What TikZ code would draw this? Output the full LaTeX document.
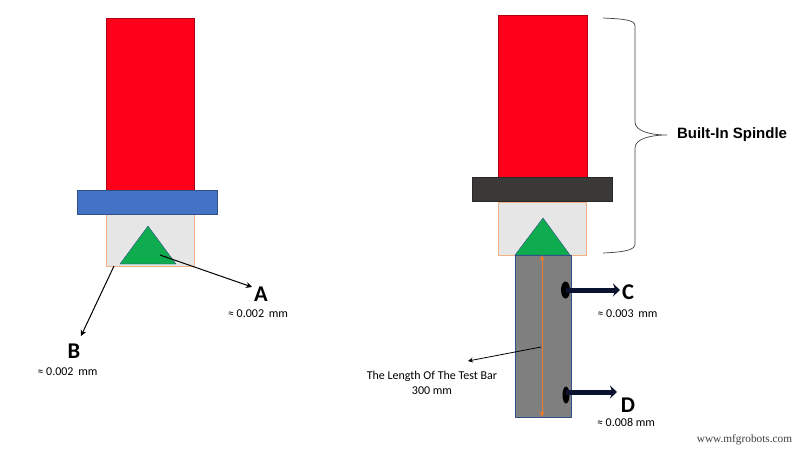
\documentclass[tikz,border=0pt]{standalone}
\usepackage{fontspec}
\setmainfont{Carlito}
\newfontfamily\bracefont{Liberation Sans}
\newfontfamily\webfont{Liberation Serif}
\usetikzlibrary{arrows.meta,shapes.geometric}
\definecolor{redbox}{HTML}{FE0019}
\definecolor{bluebox}{HTML}{4472C4}
\definecolor{darkbox}{HTML}{3B3838}
\definecolor{lightbox}{HTML}{E7E6E6}
\definecolor{orangeline}{HTML}{ED7D31}
\definecolor{greentri}{HTML}{0FAB4F}
\definecolor{barfill}{HTML}{7F7F7F}
\definecolor{navyline}{HTML}{0B1230}
\tikzset{
  part/.style={draw=#1!70!black, line width=0.7pt, inner sep=0pt, outer sep=0pt},
  holder/.style={draw=orangeline!60, fill=lightbox, line width=0.8pt, inner sep=0pt, outer sep=0pt, minimum width=88pt, minimum height=52pt},
  tri/.style={draw=bluebox!70!black, fill=greentri, line width=0.4pt},
  letter/.style={font=\bfseries\fontsize{22.5}{23}\selectfont, inner sep=0pt},
  value/.style={font=\fontsize{12}{15}\selectfont, inner sep=0pt, align=center},
  leader/.style={-{Stealth[length=6pt,width=6pt]}, line width=1pt, black},
  probe/.style={-{Stealth[length=7pt,width=13pt]}, line width=5pt, navyline},
  tipmark/.style={fill=black, draw=none, ellipse, inner sep=0pt, minimum width=9pt, minimum height=17pt}
}
\begin{document}
\begin{tikzpicture}[x=1pt,y=-1pt]
  \useasboundingbox (0,0) rectangle (800,448);
  % left spindle
  \node[part=redbox, fill=redbox, minimum width=88pt, minimum height=172pt] (redL) at (150,104) {};
  \node[holder] (holdL) at (150,240) {};
  \node[part=bluebox, fill=bluebox, minimum width=140pt, minimum height=24pt] (flangeL) at (147,202.5) {};
  \draw[tri] (148,226) -- (176,264) -- (120,264) -- cycle;
  \coordinate (triL) at (160,255);
  \coordinate (cornerL) at (114,266);
  \node[letter] (a) at (261,294) {A};
  \node[value] (aval) at (258,314) {≈ 0.002\, mm};
  \node[letter] (b) at (74,351) {B};
  \node[value] (bval) at (67.5,372) {≈ 0.002\, mm};
  \coordinate (aend) at (252,287);
  \coordinate (bend) at (81,336);
  \draw[leader] (triL) -- (aend);
  \draw[leader] (cornerL) -- (bend);
  % right spindle
  \node[part=redbox, fill=redbox, minimum width=89pt, minimum height=162pt] (redR) at (542.5,96) {};
  \node[holder, minimum height=53pt] (holdR) at (542.5,228.5) {};
  \node[part=darkbox, fill=darkbox, minimum width=140pt, minimum height=24pt] (flangeR) at (542,189) {};
  \draw[tri] (543,218) -- (570,255) -- (515,255) -- cycle;
  \node[part=bluebox, fill=barfill, minimum width=56pt, minimum height=162pt] (bar) at (543,336) {};
  \coordinate (lenT) at (542,255);
  \coordinate (lenB) at (542,417);
  \draw[{Stealth[length=6pt,width=5pt]}-{Stealth[length=6pt,width=5pt]}, orangeline, line width=0.9pt] (lenT) -- (lenB);
  % probes
  \node[tipmark] (tipC) at (565.5,290) {};
  \node[tipmark, minimum width=7pt] (tipD) at (566,395) {};
  \coordinate (cend) at (620,290);
  \coordinate (dstart) at (566,392);
  \coordinate (dend) at (617,392);
  \draw[probe] (tipC.center) -- (cend);
  \draw[probe] (dstart) -- (dend);
  \node[letter] (c) at (628,292) {C};
  \node[value] (cval) at (627.5,314) {≈ 0.003\, mm};
  \node[letter] (d) at (628,405) {D};
  \node[value] (dval) at (626,422) {≈ 0.008 mm};
  % test bar label
  \coordinate (barmid) at (541,347);
  \coordinate (barend) at (468,361);
  \draw[-{Stealth[length=5pt,width=5pt]}, line width=0.8pt, black] (barmid) -- (barend);
  \node[value] (len) at (432,382.5) {The Length Of The Test Bar\\300 mm};
  % brace
  \draw[line width=0.7pt, black!75] (603,18) .. controls (625,19) and (635,20) .. (635,26)
    -- (635,122) .. controls (635,131) and (650,135) .. (667,135)
    .. controls (650,135) and (635,139) .. (635,148)
    -- (635,244) .. controls (635,250) and (625,252) .. (603,253);
  \node[font=\bracefont\bfseries\fontsize{15}{17}\selectfont, inner sep=0pt] (spindle) at (732,135) {Built-In Spindle};
  \node[font=\webfont\fontsize{11.3}{12}\selectfont, black!75, inner sep=0pt] (web) at (744.5,440) {www.mfgrobots.com};
\end{tikzpicture}
\end{document}
